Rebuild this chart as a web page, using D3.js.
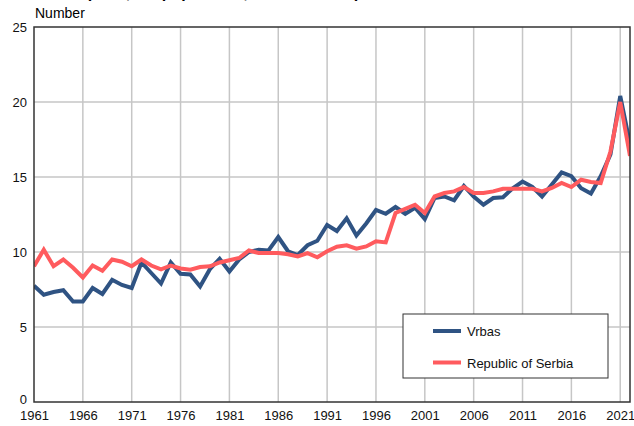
<!DOCTYPE html>
<html>
<head>
<meta charset="utf-8">
<script src="https://cdn.jsdelivr.net/npm/d3@7"></script>
<style>
  html, body { margin: 0; padding: 0; background: #fff; }
  svg { display: block; font-family: "Liberation Sans", Arial, sans-serif; }
</style>
</head>
<body>
<div id="chart"></div>
<script>
// years on the x axis
const years = d3.range(1961, 2023);
const xTicks = [1961, 1966, 1971, 1976, 1981, 1986, 1991, 1996, 2001, 2006, 2011, 2016, 2021];
const yTicks = [0, 5, 10, 15, 20, 25];

// series values
const vrbas = [7.75, 7.15, 7.33, 7.45, 6.7, 6.7, 7.6, 7.2, 8.15, 7.8,
  7.6, 9.3, 8.6, 7.9, 9.3, 8.55, 8.5, 7.7, 8.85, 9.55,
  8.7, 9.5, 10.0, 10.15, 10.1, 11.0, 10.05, 9.8, 10.45, 10.75,
  11.8, 11.4, 12.25, 11.1, 11.9, 12.8, 12.55, 13.0, 12.55, 12.95,
  12.2, 13.6, 13.7, 13.45, 14.4, 13.7, 13.15, 13.6, 13.65, 14.25,
  14.7, 14.35, 13.7, 14.5, 15.3, 15.05, 14.25, 13.9, 15.05, 16.5,
  20.4, 17.2];
const serbia = [9.05, 10.15, 9.05, 9.5, 8.95, 8.3, 9.1, 8.75, 9.5, 9.35,
  9.05, 9.5, 9.1, 8.85, 9.1, 8.9, 8.82, 9.0, 9.05, 9.3,
  9.45, 9.6, 10.1, 9.93, 9.93, 9.93, 9.85, 9.7, 9.92, 9.65,
  10.05, 10.35, 10.45, 10.22, 10.37, 10.72, 10.64, 12.6, 12.87, 13.15,
  12.6, 13.7, 13.93, 14.04, 14.33, 13.93, 13.93, 14.04, 14.22, 14.22,
  14.22, 14.22, 14.04, 14.27, 14.6, 14.33, 14.82, 14.67, 14.6, 16.7,
  20.0, 16.4];

const seriesNames = ["Vrbas", "Republic of Serbia"];
const seriesColors = ["#2f5383", "#ff5b5e"];

const width = 634, height = 426;
const margin = { top: 27, right: 4, bottom: 24, left: 34 };

const svg = d3.select("#chart").append("svg")
  .attr("width", width)
  .attr("height", height);

const x = d3.scaleLinear()
  .domain([1961, 2022])
  .range([margin.left, width - margin.right]);

const y = d3.scaleLinear()
  .domain([0, 25])
  .range([height - margin.bottom, margin.top]);

// title, cut off at the top of the picture (only descenders show)
svg.append("text")
  .attr("x", 30)
  .attr("y", -2.5)
  .attr("font-size", 16)
  .attr("font-weight", "bold")
  .attr("fill", "#000")
  .text("Deaths per 1,000 population, Vrbas and Republic of Serbia");

svg.append("text")
  .attr("x", 35)
  .attr("y", 18)
  .attr("font-size", 14)
  .attr("fill", "#000")
  .text("Number");

// grid
svg.append("g")
  .selectAll("line")
  .data(xTicks.slice(1))
  .join("line")
  .attr("x1", d => x(d)).attr("x2", d => x(d))
  .attr("y1", y(0)).attr("y2", y(25))
  .attr("stroke", "#c6c6c6")
  .attr("stroke-width", 1.5);

svg.append("g")
  .selectAll("line")
  .data(yTicks.slice(1, -1))
  .join("line")
  .attr("x1", x(1961)).attr("x2", x(2022))
  .attr("y1", d => y(d)).attr("y2", d => y(d))
  .attr("stroke", "#c6c6c6")
  .attr("stroke-width", 1.5);

// axes (labels only, frame drawn later)
const xAxis = svg.append("g")
  .attr("transform", `translate(0,${y(0)})`)
  .call(d3.axisBottom(x).tickValues(xTicks).tickFormat(d3.format("d")).tickSize(0).tickPadding(9));
const yAxis = svg.append("g")
  .attr("transform", `translate(${x(1961)},0)`)
  .call(d3.axisLeft(y).tickValues(yTicks).tickSize(0).tickPadding(7));
[xAxis, yAxis].forEach(g => {
  g.select(".domain").remove();
  g.selectAll("text").attr("font-size", 13).attr("fill", "#111")
    .attr("font-family", '"Liberation Sans", Arial, sans-serif');
});
// lift the "0" a little so it clears the year labels
yAxis.selectAll(".tick").filter(d => d === 0).select("text").attr("dy", "0.1em");

// lines
svg.append("clipPath").attr("id", "plot-clip")
  .append("rect")
  .attr("x", x(1961)).attr("y", y(25))
  .attr("width", x(2022) - x(1961)).attr("height", y(0) - y(25));

const line = d3.line()
  .x((d, i) => x(years[i]))
  .y(d => y(d));

const plot = svg.append("g").attr("clip-path", "url(#plot-clip)");
[vrbas, serbia].forEach((s, i) => {
  plot.append("path")
    .datum(s)
    .attr("fill", "none")
    .attr("stroke", seriesColors[i])
    .attr("stroke-width", 4)
    .attr("stroke-linejoin", "miter")
    .attr("d", line);
});

// frame
svg.append("rect")
  .attr("x", x(1961)).attr("y", y(25))
  .attr("width", x(2022) - x(1961)).attr("height", y(0) - y(25))
  .attr("fill", "none")
  .attr("stroke", "#333")
  .attr("stroke-width", 1.5);

// legend
const legend = svg.append("g").attr("transform", "translate(403,314)");
legend.append("rect")
  .attr("width", 205).attr("height", 64)
  .attr("fill", "#fff")
  .attr("stroke", "#333")
  .attr("stroke-width", 1);
seriesNames.forEach((name, i) => {
  const ly = 17 + i * 31.5;
  legend.append("line")
    .attr("x1", 30).attr("x2", 58)
    .attr("y1", ly).attr("y2", ly)
    .attr("stroke", seriesColors[i])
    .attr("stroke-width", 4);
  legend.append("text")
    .attr("x", 64).attr("y", ly + 5)
    .attr("font-size", 13)
    .attr("fill", "#111")
    .text(name);
});
</script>
</body>
</html>
